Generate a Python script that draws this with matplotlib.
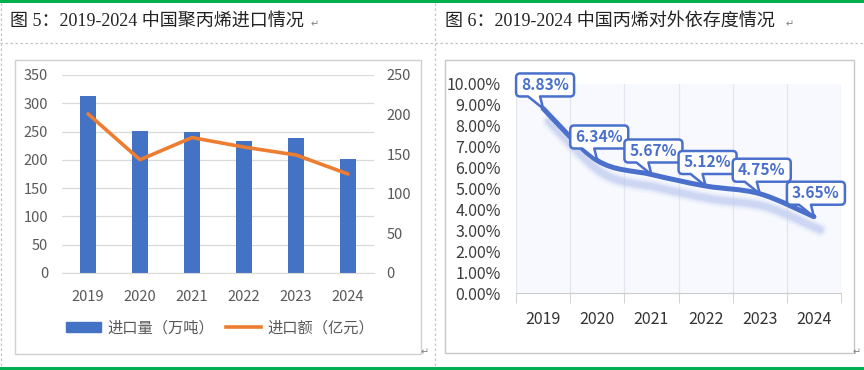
import matplotlib
matplotlib.use("Agg")
import matplotlib.pyplot as plt
import matplotlib.transforms as mtransforms
from matplotlib.path import Path
from matplotlib.patches import PathPatch, Rectangle
from matplotlib.lines import Line2D
from matplotlib.ticker import MultipleLocator, FuncFormatter
import numpy as np

plt.rcParams['font.family'] = ['Noto Sans CJK SC', 'DejaVu Sans']

years = ["2019", "2020", "2021", "2022", "2023", "2024"]
import_volume = [313, 251, 249, 233, 239, 201]      # 万吨
import_value = [201, 143, 171, 159, 149, 125]       # 亿元
dependence = [8.83, 6.34, 5.67, 5.12, 4.75, 3.65]   # %

title_left = "图 5：2019-2024 中国聚丙烯进口情况"
title_right = "图 6：2019-2024 中国丙烯对外依存度情况"
legend_labels = ["进口量（万吨）", "进口额（亿元）"]

W, H = 864, 370
fig = plt.figure(figsize=(W / 100, H / 100), dpi=100)


def fx(x):
    return x / W


def fy(y):
    return 1 - y / H


def box(x0, y0, x1, y1):
    # pixel box (top-left origin) -> figure fraction rect
    return [fx(x0), fy(y1), (x1 - x0) / W, (y1 - y0) / H]


# ---- page decorations ----
fig.add_artist(Rectangle((0, fy(2.5)), 1, 2.5 / H, transform=fig.transFigure,
                         color="#00b050", lw=0))
fig.add_artist(Rectangle((0, 0), 1, 3 / H, transform=fig.transFigure,
                         color="#00b050", lw=0))
dash = dict(color="#c4c4c4", lw=0.9, ls=(0, (2, 2)), transform=fig.transFigure)
fig.add_artist(Line2D([0, 1], [fy(43), fy(43)], **dash))
fig.add_artist(Line2D([fx(435), fx(435)], [fy(3), fy(366)], **dash))
fig.add_artist(Line2D([fx(1), fx(1)], [fy(3), fy(366)], **dash))

fig.add_artist(Rectangle((fx(15), fy(354)), 406 / W, 294 / H, transform=fig.transFigure,
                         fill=False, ec="#d0d0d0", lw=1))
fig.add_artist(Rectangle((fx(445), fy(353)), 409 / W, 293 / H, transform=fig.transFigure,
                         fill=False, ec="#c8c8c8", lw=1))

title_font = ['Liberation Serif', 'Noto Sans CJK SC']
fig.text(fx(10), fy(21), title_left, fontsize=13, family=title_font,
         color="#222222", va="center", ha="left")
fig.text(fx(445), fy(21), title_right, fontsize=13, family=title_font,
         color="#222222", va="center", ha="left")
ret = dict(fontsize=7, color="#808080", family=['DejaVu Sans'], va="center")
fig.text(fx(311), fy(24), "↵", **ret)
fig.text(fx(786), fy(24), "↵", **ret)
fig.text(fx(421), fy(352), "↵", **ret)
fig.text(fx(853), fy(352), "↵", **ret)

# ---- left chart: bars + line ----
x = np.arange(len(years))
ax1 = fig.add_axes(box(62, 75, 374, 273))
ax1.bar(x, import_volume, width=0.31, color="#4472c4", zorder=2)
ax1.set_xlim(-0.5, len(years) - 0.5)
ax1.set_ylim(0, 350)
ax1.yaxis.set_major_locator(MultipleLocator(50))
ax1.set_xticks(x)
ax1.set_xticklabels(years)
ax1.grid(axis="y", color="#d9d9d9", lw=0.9, zorder=0)
for s in ["top", "left", "right"]:
    ax1.spines[s].set_visible(False)
ax1.spines["bottom"].set_color("#d9d9d9")
ax1.tick_params(axis="both", length=0, labelsize=10.5, colors="#595959")
ax1.tick_params(axis="x", pad=12)
ax1.tick_params(axis="y", pad=10)

ax2 = ax1.twinx()
ax2.plot(x, import_value, color="#ed7d31", lw=2.6, solid_capstyle="round", zorder=3)
ax2.set_ylim(0, 250)
ax2.yaxis.set_major_locator(MultipleLocator(50))
for s in ax2.spines.values():
    s.set_visible(False)
ax2.tick_params(axis="y", length=0, labelsize=10.5, colors="#595959", pad=9)

handles = [Rectangle((0, 0), 1, 1, color="#4472c4"),
           Line2D([], [], color="#ed7d31", lw=2.6)]
fig.legend(handles, legend_labels, loc="center left",
           bbox_to_anchor=(fx(66), fy(328)), ncol=2, frameon=False,
           fontsize=11, labelcolor="#595959", handlelength=2.3,
           handleheight=0.6, handletextpad=0.4, columnspacing=0.8,
           borderaxespad=0, borderpad=0)

# ---- right chart: smooth line with callouts ----
blue = "#4a70cc"
ax3 = fig.add_axes(box(516, 84, 841, 293))
ax3.set_facecolor("#f7f9fe")
ax3.set_xlim(-0.5, len(years) - 0.5)
ax3.set_ylim(0, 10)
ax3.yaxis.set_major_locator(MultipleLocator(1))
ax3.yaxis.set_major_formatter(FuncFormatter(lambda v, p: f"{v:.2f}%"))
ax3.set_xticks(x)
ax3.set_xticklabels(years)
ax3.set_xticks(np.arange(-0.5, len(years)), minor=True)
ax3.grid(axis="x", which="minor", color="#e2e6f0", lw=0.9)
for s in ["top", "left", "right"]:
    ax3.spines[s].set_visible(False)
ax3.spines["bottom"].set_color("#cccccc")
ax3.tick_params(axis="x", which="major", length=0, labelsize=11.5, colors="#333333", pad=13)
ax3.tick_params(axis="x", which="minor", length=7, color="#cccccc")
ax3.tick_params(axis="y", length=0, labelsize=11.5, colors="#3c3c3c", pad=11)

# smooth path (Catmull-Rom as cubic Bezier segments)
pts = np.column_stack([x, dependence]).astype(float)
ext = np.vstack([pts[0], pts, pts[-1]])
verts = [pts[0]]
codes = [Path.MOVETO]
for i in range(len(pts) - 1):
    p0, p1, p2, p3 = ext[i], ext[i + 1], ext[i + 2], ext[i + 3]
    verts += [p1 + (p2 - p0) / 6, p2 - (p3 - p1) / 6, p2]
    codes += [Path.CURVE4] * 3
curve = Path(verts, codes)

shadow_tr = mtransforms.offset_copy(ax3.transData, fig=fig, x=6, y=-13, units="dots")
for lw, a in [(11, 0.10), (8, 0.16), (6, 0.24), (4, 0.35)]:
    ax3.add_patch(PathPatch(curve, fill=False, ec="#b7c5ee", lw=lw, alpha=a,
                            capstyle="round", transform=shadow_tr, zorder=2))
ax3.add_patch(PathPatch(curve, fill=False, ec=blue, lw=3.6, capstyle="round",
                        joinstyle="round", zorder=3))

# callout shape in pixels, tip at (0, 0)
bl, br, bb, bt, r = -27, 31, 12, 35, 4
tail_l, tail_r = -15, -3
cv = [(0, 0), (tail_l, bb), (bl + r, bb), (bl, bb), (bl, bb + r), (bl, bt - r),
      (bl, bt), (bl + r, bt), (br - r, bt), (br, bt), (br, bt - r), (br, bb + r),
      (br, bb), (br - r, bb), (tail_r, bb), (0, 0)]
cc = [Path.MOVETO, Path.LINETO, Path.LINETO, Path.CURVE3, Path.CURVE3, Path.LINETO,
      Path.CURVE3, Path.CURVE3, Path.LINETO, Path.CURVE3, Path.CURVE3, Path.LINETO,
      Path.CURVE3, Path.CURVE3, Path.LINETO, Path.CLOSEPOLY]
callout = Path(cv, cc)
px_scale = mtransforms.Affine2D().scale(fig.dpi / 100)
for xi, v in zip(x, dependence):
    tr = px_scale + mtransforms.ScaledTranslation(xi, v, ax3.transData)
    ax3.add_patch(PathPatch(callout, fc="white", ec=blue, lw=1.8,
                            joinstyle="round", transform=tr, zorder=4, clip_on=False))
    ax3.annotate(f"{v:.2f}%", xy=(xi, v), xytext=((bl + br) / 2, (bb + bt) / 2),
                 textcoords="offset pixels", ha="center", va="center",
                 fontsize=11.2, fontweight="bold", color=blue, zorder=5,
                 annotation_clip=False)

fig.savefig("out.png", dpi=100)
